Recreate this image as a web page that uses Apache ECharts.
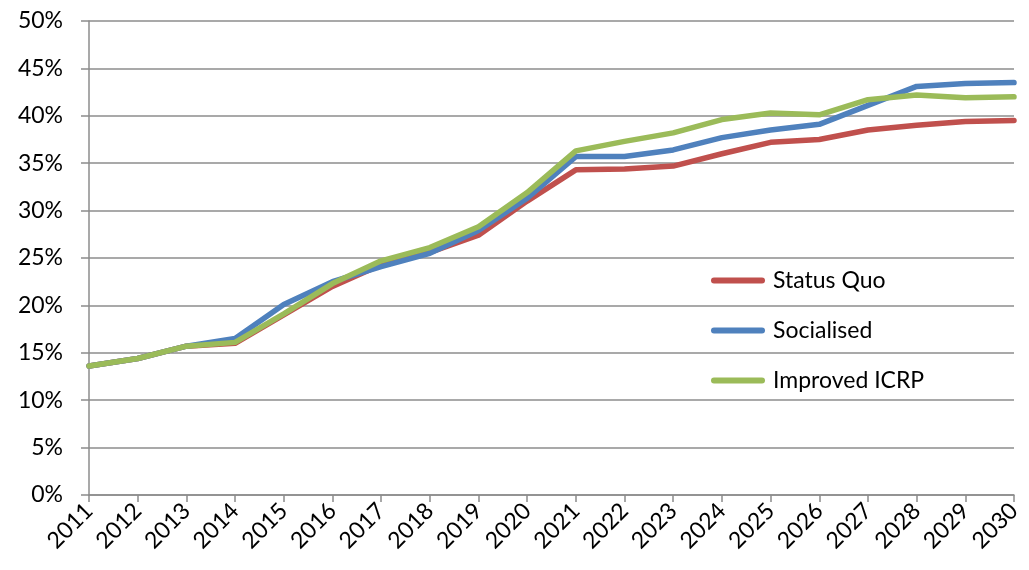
<!DOCTYPE html>
<html>
<head>
<meta charset="utf-8">
<script src="https://cdn.jsdelivr.net/npm/echarts@6/dist/echarts.min.js"></script>
<style>
  html, body { margin: 0; padding: 0; background: #fff; }
  #chart { width: 1029px; height: 570px; }
</style>
</head>
<body>
<div id="chart"></div>
<script>
// Years on the horizontal axis
const years = ['2011','2012','2013','2014','2015','2016','2017','2018','2019','2020',
               '2021','2022','2023','2024','2025','2026','2027','2028','2029','2030'];

// Share by scenario, in percent
const statusQuo  = [13.6, 14.4, 15.7, 16.0, 19.0, 22.0, 24.3, 25.6, 27.4, 31.0,
                    34.3, 34.4, 34.7, 36.0, 37.2, 37.5, 38.5, 39.0, 39.4, 39.5];
const socialised = [13.6, 14.4, 15.7, 16.5, 20.1, 22.5, 24.1, 25.5, 27.9, 31.3,
                    35.7, 35.7, 36.4, 37.7, 38.5, 39.1, 41.1, 43.1, 43.4, 43.5];
const improved   = [13.6, 14.4, 15.7, 16.1, 19.1, 22.3, 24.7, 26.1, 28.3, 31.9,
                    36.3, 37.3, 38.2, 39.6, 40.3, 40.1, 41.7, 42.2, 41.9, 42.0];

const seriesNames = ['Status Quo', 'Socialised', 'Improved ICRP'];
const seriesColors = ['#C0504D', '#4F81BD', '#9BBB59'];
const seriesData = [statusQuo, socialised, improved];

const font = 'Lato, "Open Sans", "DejaVu Sans", sans-serif';
const gridGray = '#8c8c8c';

// Rounded bar used as the legend key
const keyIcon = 'path://M3,0 L51,0 A3,3 0 0 1 51,6 L3,6 A3,3 0 0 1 3,0 Z';

const chart = echarts.init(document.getElementById('chart'), null, { renderer: 'canvas' });

chart.setOption({
  animation: false,
  backgroundColor: '#ffffff',
  grid: { left: 89, right: 15, top: 21, bottom: 75, containLabel: false },
  legend: {
    orient: 'vertical',
    left: 706,
    top: 264,
    icon: keyIcon,
    itemWidth: 54,
    itemHeight: 6,
    itemGap: 27,
    textStyle: { fontFamily: font, fontSize: 23, color: '#000', padding: [0, 0, 0, 3] },
    data: seriesNames
  },
  xAxis: {
    type: 'category',
    data: years,
    boundaryGap: false,
    axisLine: { show: true, lineStyle: { color: gridGray, width: 1.5 } },
    axisTick: { show: true, length: 7, alignWithLabel: true, lineStyle: { color: gridGray, width: 1.5 } },
    axisLabel: {
      interval: 0,
      rotate: 45,
      margin: 12,
      fontFamily: font,
      fontSize: 23,
      color: '#000'
    },
    splitLine: { show: false }
  },
  yAxis: {
    type: 'value',
    min: 0,
    max: 50,
    interval: 5,
    axisLine: { show: true, lineStyle: { color: gridGray, width: 1.5 } },
    axisTick: { show: true, length: 8, lineStyle: { color: gridGray, width: 1.5 } },
    axisLabel: {
      margin: 26,
      fontFamily: font,
      fontSize: 23,
      color: '#000',
      formatter: '{value}%'
    },
    splitLine: { show: true, lineStyle: { color: gridGray, width: 1.5 } }
  },
  series: seriesNames.map((name, i) => ({
    name: name,
    type: 'line',
    data: seriesData[i],
    symbol: 'none',
    smooth: false,
    color: seriesColors[i],
    lineStyle: { width: 5.5, color: seriesColors[i], cap: 'round', join: 'round' },
    z: 2 + i
  }))
});
</script>
</body>
</html>
